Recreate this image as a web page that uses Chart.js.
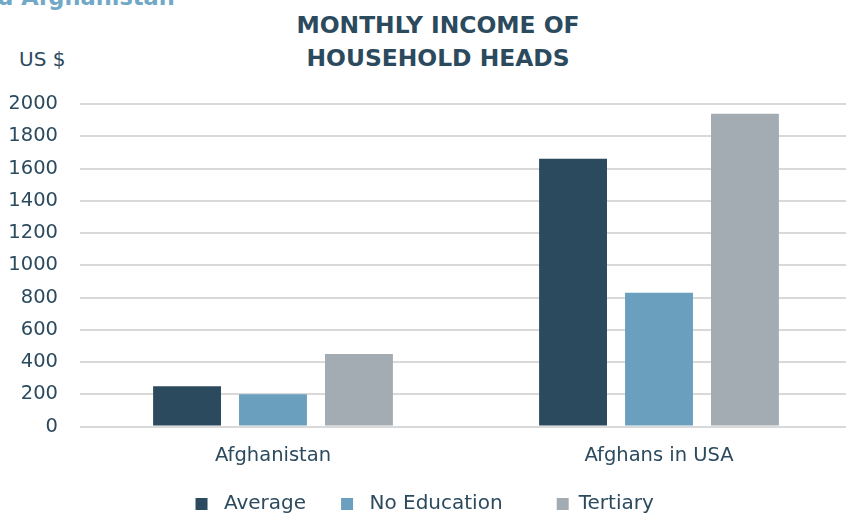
<!DOCTYPE html>
<html>
<head>
<meta charset="utf-8">
<script src="https://cdn.jsdelivr.net/npm/chart.js@4"></script>
<style>
  body { margin: 0; background: #fff; overflow: hidden; }
  .wrap { position: relative; width: 846px; height: 513px; overflow: hidden; }
  .cut { position: absolute; left: -34px; top: -16px; color: #72a8c7; font-family: "DejaVu Sans", sans-serif; font-weight: bold; font-size: 22.5px; line-height: 26px; white-space: nowrap; }
  .title { position: absolute; left: 238px; width: 400px; top: 9px; text-align: center; color: #2b4a5e; font-family: "DejaVu Sans", sans-serif; font-weight: bold; font-size: 23.4px; line-height: 33px; }
  .unit { position: absolute; left: 19px; top: 47px; color: #2b4a5e; font-family: "DejaVu Sans", sans-serif; font-size: 20px; }
  canvas { position: absolute; left: 0; top: 0; }
</style>
</head>
<body>
<div class="wrap">
  <div class="cut">and Afghanistan</div>
  <div class="title">MONTHLY INCOME OF<br>HOUSEHOLD HEADS</div>
  <div class="unit">US $</div>
  <canvas id="chart" width="852" height="524"></canvas>
</div>
<script>
const categories = ["Afghanistan", "Afghans in USA"];
const average = [250, 1660];
const noEducation = [200, 830];
const tertiary = [450, 1940];
const yTicks = [0, 200, 400, 600, 800, 1000, 1200, 1400, 1600, 1800, 2000];

const textColor = "#2b4a5e";
const bodyFont = { family: "DejaVu Sans", size: 19.5 };
const legendFont = { family: "DejaVu Sans", size: 20 };
// spaces before / after each legend text, the original spaces them unevenly
const legendLead = [1, 1, 0];
const legendTrail = [3, 6, 2];

const defaultLabels = Chart.defaults.plugins.legend.labels.generateLabels;

new Chart(document.getElementById("chart"), {
  type: "bar",
  data: {
    labels: categories,
    datasets: [
      { label: "Average", data: average, backgroundColor: "#2b4a5e" },
      { label: "No Education", data: noEducation, backgroundColor: "#6aa0bd" },
      { label: "Tertiary", data: tertiary, backgroundColor: "#a3acb2" },
    ],
  },
  options: {
    responsive: false,
    animation: false,
    categoryPercentage: 0.668,
    barPercentage: 0.79,
    layout: { padding: { top: 104, right: 0, left: 10, bottom: 0 } },
    plugins: {
      legend: {
        position: "bottom",
        labels: {
          color: textColor,
          font: legendFont,
          boxWidth: 12,
          boxHeight: 12,
          padding: 16,
          generateLabels: (chart) => {
            const items = defaultLabels(chart);
            items.forEach((it, i) => {
              it.text = " ".repeat(legendLead[i]) + it.text + " ".repeat(legendTrail[i]);
            });
            return items;
          },
        },
      },
      tooltip: { enabled: false },
    },
    scales: {
      x: {
        grid: { display: false },
        border: { display: false },
        ticks: { color: textColor, font: bodyFont, padding: 10 },
      },
      y: {
        min: 0,
        max: 2000,
        afterBuildTicks: (axis) => { axis.ticks = yTicks.map((v) => ({ value: v })); },
        afterFit: (axis) => { axis.width = 70; },
        grid: { color: "#d9d9d9", lineWidth: 2, drawTicks: false },
        border: { display: false },
        ticks: {
          color: textColor,
          font: bodyFont,
          padding: 22,
          callback: (v) => String(v),
        },
      },
    },
  },
});
</script>
</body>
</html>
